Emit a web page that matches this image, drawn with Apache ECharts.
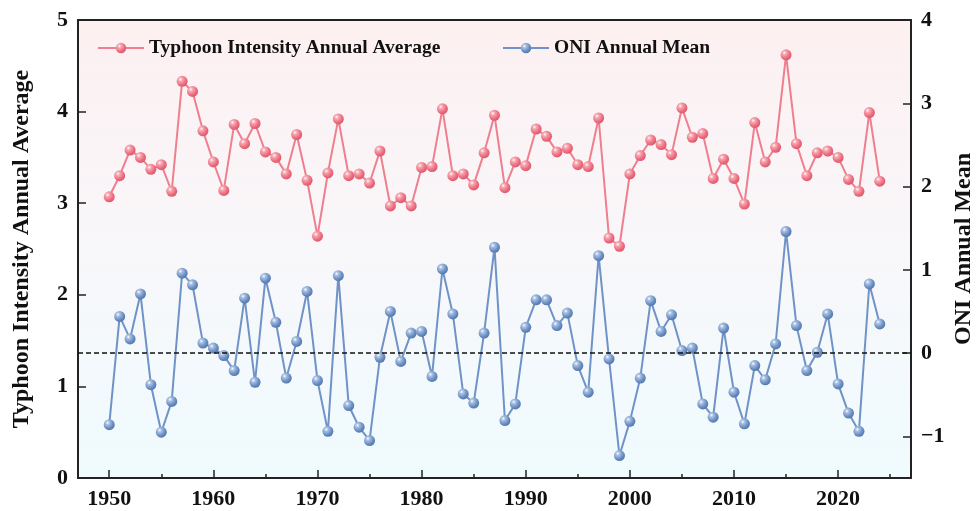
<!DOCTYPE html>
<html>
<head>
<meta charset="utf-8">
<script src="https://cdn.jsdelivr.net/npm/echarts@6/dist/echarts.min.js"></script>
<style>
  html, body { margin: 0; padding: 0; background: #ffffff; }
  #chart { width: 976px; height: 511px; }
</style>
</head>
<body>
<div id="chart"></div>
<script>
// Years 1950–2024
const years = [];
for (let y = 1950; y <= 2024; y++) years.push(y);

// Typhoon intensity, annual average (left axis)
const typhoonIntensity = [
  3.07, 3.30, 3.58, 3.50, 3.37, 3.42, 3.13, 4.33, 4.22, 3.79,
  3.45, 3.14, 3.86, 3.65, 3.87, 3.56, 3.50, 3.32, 3.75, 3.25,
  2.64, 3.33, 3.92, 3.30, 3.32, 3.22, 3.57, 2.97, 3.06, 2.97,
  3.39, 3.40, 4.03, 3.30, 3.32, 3.20, 3.55, 3.96, 3.17, 3.45,
  3.41, 3.81, 3.73, 3.56, 3.60, 3.42, 3.40, 3.93, 2.62, 2.53,
  3.32, 3.52, 3.69, 3.64, 3.53, 4.04, 3.72, 3.76, 3.27, 3.48,
  3.27, 2.99, 3.88, 3.45, 3.61, 4.62, 3.65, 3.30, 3.55, 3.57,
  3.50, 3.26, 3.13, 3.99, 3.24
];

// ONI annual mean (right axis)
const oniMean = [
  -0.86, 0.44, 0.17, 0.71, -0.38, -0.95, -0.58, 0.96, 0.82, 0.12,
  0.06, -0.03, -0.21, 0.66, -0.35, 0.90, 0.37, -0.30, 0.14, 0.74,
  -0.33, -0.94, 0.93, -0.63, -0.89, -1.05, -0.05, 0.50, -0.10, 0.24,
  0.26, -0.28, 1.01, 0.47, -0.49, -0.60, 0.24, 1.27, -0.81, -0.61,
  0.31, 0.64, 0.64, 0.33, 0.48, -0.15, -0.47, 1.17, -0.07, -1.23,
  -0.82, -0.30, 0.63, 0.26, 0.46, 0.03, 0.06, -0.61, -0.77, 0.30,
  -0.47, -0.85, -0.15, -0.32, 0.11, 1.46, 0.33, -0.21, 0.01, 0.47,
  -0.37, -0.72, -0.94, 0.83, 0.35
];

// Axis ticks and labels
const xLabelYears = [1950, 1960, 1970, 1980, 1990, 2000, 2010, 2020];
const xMinorYears = [1955, 1965, 1975, 1985, 1995, 2005, 2015, 2025];
const rightTicks = [-1, 0, 1, 2, 3, 4];

const serif = "'Liberation Serif', 'Times New Roman', serif";
const pink = '#ef7f8e';
const blue = '#6f93c6';

function ball(base, light, dark) {
  return {
    type: 'radial', x: 0.35, y: 0.32, r: 0.75,
    colorStops: [
      { offset: 0, color: '#ffffff' },
      { offset: 0.22, color: light },
      { offset: 0.65, color: base },
      { offset: 1, color: dark }
    ]
  };
}

const toPairs = (vals) => vals.map((v, i) => [years[i], v]);

const axisLabelFont = { fontFamily: serif, fontWeight: 'bold', fontSize: 22, color: '#111' };
const axisLine = { show: true, onZero: false, lineStyle: { color: '#222', width: 2 } };
const legendText = { fontFamily: serif, fontWeight: 'bold', fontSize: 19.5, color: '#111' };
const nameText = { fontFamily: serif, fontWeight: 'bold', fontSize: 24, color: '#111' };

const chart = echarts.init(document.getElementById('chart'), null, { renderer: 'canvas' });

chart.setOption({
  animation: false,
  backgroundColor: '#ffffff',
  grid: {
    left: 78, right: 65, top: 20, bottom: 33,
    containLabel: false,
    outerBoundsMode: 'none',
    show: true,
    borderWidth: 0,
    backgroundColor: {
      type: 'linear', x: 0, y: 0, x2: 0, y2: 1,
      colorStops: [
        { offset: 0, color: '#fdf0f1' },
        { offset: 0.5, color: '#f8f7fa' },
        { offset: 1, color: '#effbfe' }
      ]
    }
  },
  legend: [
    {
      data: ['Typhoon Intensity Annual Average'],
      left: 92, top: 33,
      itemWidth: 46, itemHeight: 13, itemGap: 6,
      textStyle: legendText
    },
    {
      data: ['ONI Annual Mean'],
      left: 497, top: 33,
      itemWidth: 46, itemHeight: 13,
      textStyle: legendText
    }
  ],
  xAxis: [
    {
      type: 'value', min: 1947, max: 2027,
      position: 'bottom',
      axisLine: axisLine,
      splitLine: { show: false },
      axisTick: { show: true, inside: true, length: 8, lineStyle: { color: '#222', width: 1.5 }, customValues: xLabelYears },
      axisLabel: Object.assign({ margin: 10, customValues: xLabelYears, formatter: (v) => String(v) }, axisLabelFont)
    },
    {
      type: 'value', min: 1947, max: 2027,
      position: 'bottom',
      axisLine: { show: false, onZero: false },
      splitLine: { show: false },
      axisTick: { show: true, inside: true, length: 4, lineStyle: { color: '#222', width: 1.5 }, customValues: xMinorYears },
      axisLabel: { show: false }
    },
    {
      type: 'value', min: 1947, max: 2027,
      position: 'top',
      axisLine: axisLine,
      splitLine: { show: false },
      axisTick: { show: false },
      axisLabel: { show: false }
    }
  ],
  yAxis: [
    {
      type: 'value', min: 0, max: 5, interval: 1,
      position: 'left',
      name: 'Typhoon Intensity Annual Average',
      nameLocation: 'middle', nameRotate: 90, nameGap: 44,
      nameTextStyle: nameText,
      axisLine: axisLine,
      splitLine: { show: false },
      axisTick: { show: true, inside: true, length: 8, lineStyle: { color: '#222', width: 1.5 } },
      axisLabel: Object.assign({ margin: 10 }, axisLabelFont)
    },
    {
      type: 'value', min: -1.5, max: 4,
      position: 'right',
      name: 'ONI Annual Mean',
      nameLocation: 'middle', nameRotate: 90, nameGap: 53,
      nameMoveOverlap: false,
      nameTextStyle: Object.assign({ verticalAlign: 'middle' }, nameText),
      axisLine: axisLine,
      splitLine: { show: false },
      axisTick: { show: true, inside: true, length: 8, lineStyle: { color: '#222', width: 1.5 }, customValues: rightTicks },
      axisLabel: Object.assign({
        margin: 10, customValues: rightTicks,
        formatter: (v) => String(v).replace('-', '\u2212')
      }, axisLabelFont)
    }
  ],
  series: [
    {
      name: 'Typhoon Intensity Annual Average',
      type: 'line',
      xAxisIndex: 0, yAxisIndex: 0,
      data: toPairs(typhoonIntensity),
      symbol: 'circle', symbolSize: 11,
      lineStyle: { color: pink, width: 2 },
      itemStyle: { color: ball('#ec6e80', '#f7aab4', '#d95469'), borderWidth: 0 },
      z: 3
    },
    {
      name: 'ONI Annual Mean',
      type: 'line',
      xAxisIndex: 0, yAxisIndex: 1,
      data: toPairs(oniMean),
      symbol: 'circle', symbolSize: 11,
      lineStyle: { color: blue, width: 2 },
      itemStyle: { color: ball('#6b8fc3', '#a9c1e2', '#4f73a8'), borderWidth: 0 },
      markLine: {
        silent: true,
        symbol: 'none',
        label: { show: false },
        lineStyle: { color: '#111', type: [5, 3], width: 1.5 },
        data: [{ yAxis: 0 }]
      },
      z: 3
    }
  ]
});
</script>
</body>
</html>
